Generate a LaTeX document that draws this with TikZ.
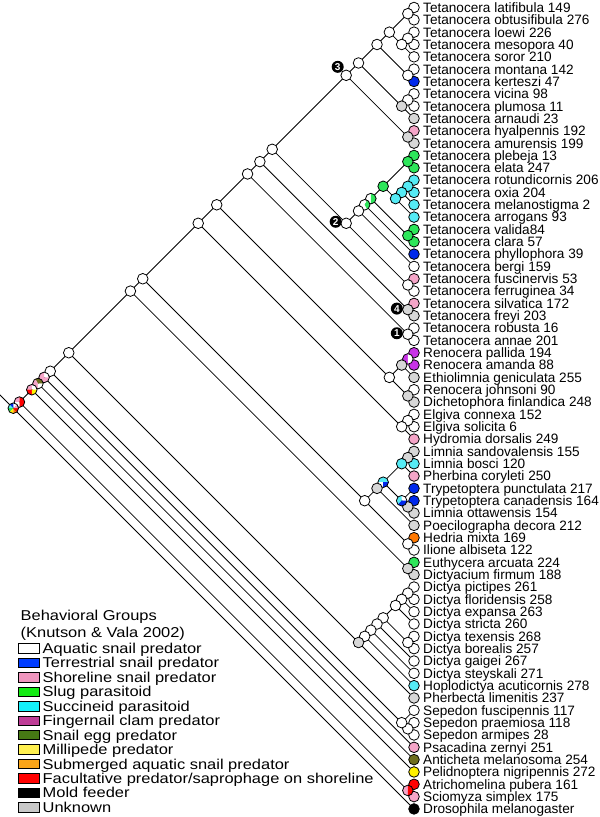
\documentclass[tikz,border=0pt]{standalone}
\usepackage{fontspec}
\setmainfont{Liberation Sans}
\usepackage{graphicx}
\usetikzlibrary{calc}
\definecolor{cbl}{RGB}{0,40,235}
\definecolor{cpk}{RGB}{245,165,200}
\definecolor{cgn}{RGB}{45,230,90}
\definecolor{ccy}{RGB}{85,235,245}
\definecolor{cmg}{RGB}{200,50,230}
\definecolor{col}{RGB}{110,110,30}
\definecolor{cye}{RGB}{255,240,0}
\definecolor{cor}{RGB}{255,120,0}
\definecolor{crd}{RGB}{255,0,0}
\definecolor{cgy}{RGB}{215,215,215}
\definecolor{kbl}{RGB}{0,60,255}
\definecolor{kpk}{RGB}{240,150,190}
\definecolor{kgn}{RGB}{20,235,20}
\definecolor{kcy}{RGB}{20,240,250}
\definecolor{kmg}{RGB}{190,60,150}
\definecolor{kol}{RGB}{70,120,20}
\definecolor{kye}{RGB}{255,240,80}
\definecolor{kor}{RGB}{250,165,25}
\definecolor{krd}{RGB}{255,0,0}
\definecolor{kgy}{RGB}{200,200,200}
\tikzset{
  dot/.style={circle, draw=black, line width=0.8pt, minimum size=10.6pt, inner sep=0pt},
  lab/.style={anchor=base west, inner sep=0pt, font=\fontsize{13.6}{14}\selectfont},
  edge/.style={draw=black, line width=0.8pt},
  badge/.style={circle, fill=black, text=white, inner sep=0pt, minimum size=12pt, font=\bfseries\fontsize{10}{10}\selectfont},
  lbox/.style={rectangle, draw=black, line width=0.6pt, minimum width=20.5pt, minimum height=9.5pt, inner sep=0pt},
  ltext/.style={anchor=base west, inner sep=0pt, font=\fontsize{14.3}{15}\selectfont}
}
\newcommand\leafnode[3]{%
  \node[dot, fill=#2] (n#1) at (0,#1) {};
  \node[lab] (t#1) at ($(n#1)+(9pt,-4.87pt)$) {#3};}
\newcommand\icoord[3]{\coordinate (#1) at (-#2,#3);}
\newcommand\brn[3]{\draw[edge] (#1) -- (#2) (#1) -- (#3);}
\newcommand\inode[2]{\node[dot, fill=#2] (#1c) at (#1) {};}
\newcommand\myslice[4]{\fill[#2] (#1) -- ++(#3:5.3pt) arc[start angle=#3, end angle=#4, radius=5.3pt] -- cycle;}
\newcommand\pieoutline[1]{\node[dot, fill=none] (#1c) at (#1) {};}
\newcommand\legrow[3]{%
  \node[lbox, fill=#2] (k#1) at (28.8, {648.3+(#1-1)*14.45}) {};
  \node[ltext] (kt#1) at (42.5, {648.3+(#1-1)*14.45+5.1}) {\scalebox{1.15}[1]{#3}};}
\begin{document}
\begin{tikzpicture}[x=1pt, y=-1pt]
\useasboundingbox (0,0) rectangle (600,817);
\fill[white] (0,0) rectangle (600,817);
\begin{scope}[shift={(414pt,4.83pt)}, x=12.33pt, y=-12.33pt]
% leaves
\leafnode{1}{white}{Tetanocera latifibula 149}
\leafnode{2}{white}{Tetanocera obtusifibula 276}
\leafnode{3}{white}{Tetanocera loewi 226}
\leafnode{4}{white}{Tetanocera mesopora 40}
\leafnode{5}{white}{Tetanocera soror 210}
\leafnode{6}{white}{Tetanocera montana 142}
\leafnode{7}{cbl}{Tetanocera kerteszi 47}
\leafnode{8}{white}{Tetanocera vicina 98}
\leafnode{9}{white}{Tetanocera plumosa 11}
\leafnode{10}{cgy}{Tetanocera arnaudi 23}
\leafnode{11}{cpk}{Tetanocera hyalpennis 192}
\leafnode{12}{cgy}{Tetanocera amurensis 199}
\leafnode{13}{cgn}{Tetanocera plebeja 13}
\leafnode{14}{cgn}{Tetanocera elata 247}
\leafnode{15}{ccy}{Tetanocera rotundicornis 206}
\leafnode{16}{ccy}{Tetanocera oxia 204}
\leafnode{17}{ccy}{Tetanocera melanostigma 2}
\leafnode{18}{ccy}{Tetanocera arrogans 93}
\leafnode{19}{cgn}{Tetanocera valida84}
\leafnode{20}{cgn}{Tetanocera clara 57}
\leafnode{21}{cbl}{Tetanocera phyllophora 39}
\leafnode{22}{white}{Tetanocera bergi 159}
\leafnode{23}{cpk}{Tetanocera fuscinervis 53}
\leafnode{24}{white}{Tetanocera ferruginea 34}
\leafnode{25}{cpk}{Tetanocera silvatica 172}
\leafnode{26}{cgy}{Tetanocera freyi 203}
\leafnode{27}{white}{Tetanocera robusta 16}
\leafnode{28}{white}{Tetanocera annae 201}
\leafnode{29}{cmg}{Renocera pallida 194}
\leafnode{30}{cmg}{Renocera amanda 88}
\leafnode{31}{cgy}{Ethiolimnia geniculata 255}
\leafnode{32}{white}{Renocera johnsoni 90}
\leafnode{33}{cgy}{Dichetophora finlandica 248}
\leafnode{34}{white}{Elgiva connexa 152}
\leafnode{35}{white}{Elgiva solicita 6}
\leafnode{36}{cpk}{Hydromia dorsalis 249}
\leafnode{37}{cgy}{Limnia sandovalensis 155}
\leafnode{38}{ccy}{Limnia bosci 120}
\leafnode{39}{cpk}{Pherbina coryleti 250}
\leafnode{40}{cbl}{Trypetoptera punctulata 217}
\leafnode{41}{cbl}{Trypetoptera canadensis 164}
\leafnode{42}{cgy}{Limnia ottawensis 154}
\leafnode{43}{cgy}{Poecilographa decora 212}
\leafnode{44}{cor}{Hedria mixta 169}
\leafnode{45}{white}{Ilione albiseta 122}
\leafnode{46}{cgn}{Euthycera arcuata 224}
\leafnode{47}{cgy}{Dictyacium firmum 188}
\leafnode{48}{white}{Dictya pictipes 261}
\leafnode{49}{white}{Dictya floridensis 258}
\leafnode{50}{white}{Dictya expansa 263}
\leafnode{51}{white}{Dictya stricta 260}
\leafnode{52}{white}{Dictya texensis 268}
\leafnode{53}{white}{Dictya borealis 257}
\leafnode{54}{white}{Dictya gaigei 267}
\leafnode{55}{white}{Dictya steyskali 271}
\leafnode{56}{ccy}{Hoplodictya acuticornis 278}
\leafnode{57}{cgy}{Pherbecta limenitis 237}
\leafnode{58}{white}{Sepedon fuscipennis 117}
\leafnode{59}{white}{Sepedon praemiosa 118}
\leafnode{60}{white}{Sepedon armipes 28}
\leafnode{61}{cpk}{Psacadina zernyi 251}
\leafnode{62}{col}{Anticheta melanosoma 254}
\leafnode{63}{cye}{Pelidnoptera nigripennis 272}
\leafnode{64}{crd}{Atrichomelina pubera 161}
\leafnode{65}{cpk}{Sciomyza simplex 175}
\leafnode{66}{black}{Drosophila melanogaster}
% internal positions
\icoord{t12}{0.5}{1.5}
\icoord{t34}{0.5}{3.5}
\icoord{t35}{1}{4}
\icoord{t15}{2}{3}
\icoord{t67}{0.5}{6.5}
\icoord{t17}{3}{4}
\icoord{t89}{0.5}{8.5}
\icoord{t810}{1}{9}
\icoord{t110}{4.5}{5.5}
\icoord{t1112}{0.5}{11.5}
\icoord{Nthree}{5.5}{6.5}
\icoord{c1314}{0.5}{13.5}
\icoord{c1516}{0.5}{15.5}
\icoord{c1517}{1}{16}
\icoord{c1518}{1.5}{16.5}
\icoord{c1318}{2.5}{15.5}
\icoord{c1920}{0.5}{19.5}
\icoord{c1320}{3.5}{16.5}
\icoord{c1321}{4}{17}
\icoord{c1322}{4.5}{17.5}
\icoord{c2324}{0.5}{23.5}
\icoord{Ntwo}{5.5}{18.5}
\icoord{S1}{11.5}{12.5}
\icoord{c2526}{0.5}{25.5}
\icoord{S2}{12.5}{13.5}
\icoord{c2728}{0.5}{27.5}
\icoord{S3}{13.5}{14.5}
\icoord{r2930}{0.5}{29.5}
\icoord{r2931}{1}{30}
\icoord{r3233}{0.5}{32.5}
\icoord{r2933}{2}{31}
\icoord{S4}{16}{17}
\icoord{e3435}{0.5}{34.5}
\icoord{e3436}{1}{35}
\icoord{S5}{17.5}{18.5}
\icoord{l3738}{0.5}{37.5}
\icoord{l3739}{1}{38}
\icoord{l4142}{0.5}{41.5}
\icoord{l4042}{1}{41}
\icoord{l3742}{2.5}{39.5}
\icoord{l3743}{3}{40}
\icoord{h4445}{0.5}{44.5}
\icoord{l3745}{4}{41}
\icoord{S6}{22}{23}
\icoord{d4647}{0.5}{46.5}
\icoord{S7}{23}{24}
\icoord{D4849}{0.5}{48.5}
\icoord{D4850}{1}{49}
\icoord{D4851}{1.5}{49.5}
\icoord{D5253}{0.5}{52.5}
\icoord{D4853}{2.5}{50.5}
\icoord{D4854}{3}{51}
\icoord{D4855}{3.5}{51.5}
\icoord{D4856}{4}{52}
\icoord{D4857}{4.5}{52.5}
\icoord{S8}{28}{29}
\icoord{p5960}{0.5}{59.5}
\icoord{p5860}{1}{59}
\icoord{S9}{29.5}{30.5}
\icoord{S10}{30}{31}
\icoord{S11}{30.5}{31.5}
\icoord{S12}{31}{32}
\icoord{a6465}{0.5}{64.5}
\icoord{S13}{32}{33}
\icoord{root}{32.5}{33.5}
\coordinate (stem) at (-33.6,32.4);
% edges
\draw[edge] (root) -- (stem);
\brn{t12}{n1}{n2}
\brn{t34}{n3}{n4}
\brn{t35}{t34}{n5}
\brn{t15}{t12}{t35}
\brn{t67}{n6}{n7}
\brn{t17}{t15}{t67}
\brn{t89}{n8}{n9}
\brn{t810}{t89}{n10}
\brn{t110}{t17}{t810}
\brn{t1112}{n11}{n12}
\brn{Nthree}{t110}{t1112}
\brn{c1314}{n13}{n14}
\brn{c1516}{n15}{n16}
\brn{c1517}{c1516}{n17}
\brn{c1518}{c1517}{n18}
\brn{c1318}{c1314}{c1518}
\brn{c1920}{n19}{n20}
\brn{c1320}{c1318}{c1920}
\brn{c1321}{c1320}{n21}
\brn{c1322}{c1321}{n22}
\brn{c2324}{n23}{n24}
\brn{Ntwo}{c1322}{c2324}
\brn{S1}{Nthree}{Ntwo}
\brn{c2526}{n25}{n26}
\brn{S2}{S1}{c2526}
\brn{c2728}{n27}{n28}
\brn{S3}{S2}{c2728}
\brn{r2930}{n29}{n30}
\brn{r2931}{r2930}{n31}
\brn{r3233}{n32}{n33}
\brn{r2933}{r2931}{r3233}
\brn{S4}{S3}{r2933}
\brn{e3435}{n34}{n35}
\brn{e3436}{e3435}{n36}
\brn{S5}{S4}{e3436}
\brn{l3738}{n37}{n38}
\brn{l3739}{l3738}{n39}
\brn{l4142}{n41}{n42}
\brn{l4042}{n40}{l4142}
\brn{l3742}{l3739}{l4042}
\brn{l3743}{l3742}{n43}
\brn{h4445}{n44}{n45}
\brn{l3745}{l3743}{h4445}
\brn{S6}{S5}{l3745}
\brn{d4647}{n46}{n47}
\brn{S7}{S6}{d4647}
\brn{D4849}{n48}{n49}
\brn{D4850}{D4849}{n50}
\brn{D4851}{D4850}{n51}
\brn{D5253}{n52}{n53}
\brn{D4853}{D4851}{D5253}
\brn{D4854}{D4853}{n54}
\brn{D4855}{D4854}{n55}
\brn{D4856}{D4855}{n56}
\brn{D4857}{D4856}{n57}
\brn{S8}{S7}{D4857}
\brn{p5960}{n59}{n60}
\brn{p5860}{n58}{p5960}
\brn{S9}{S8}{p5860}
\brn{S10}{S9}{n61}
\brn{S11}{S10}{n62}
\brn{S12}{S11}{n63}
\brn{a6465}{n64}{n65}
\brn{S13}{S12}{a6465}
\brn{root}{S13}{n66}
% internal circles
\inode{t12}{white}
\inode{t34}{white}
\inode{t35}{white}
\inode{t15}{white}
\inode{t67}{white}
\inode{t17}{white}
\inode{t89}{white}
\inode{t810}{cgy}
\inode{t110}{white}
\inode{t1112}{cgy}
\inode{Nthree}{white}
\inode{c1314}{cgn}
\inode{c1516}{ccy}
\inode{c1517}{ccy}
\inode{c1518}{ccy}
\inode{c1318}{cgn}
\inode{c1920}{cgn}
\myslice{c1320}{white}{90}{270}\myslice{c1320}{cgn}{-90}{90}\pieoutline{c1320}
\myslice{c1321}{white}{60}{300}\myslice{c1321}{cgn}{-60}{60}\pieoutline{c1321}
\inode{c1322}{white}
\inode{c2324}{white}
\inode{Ntwo}{white}
\inode{S1}{white}
\inode{c2526}{cgy}
\inode{S2}{white}
\inode{c2728}{white}
\inode{S3}{white}
\myslice{r2930}{cmg}{90}{270}\myslice{r2930}{white}{-90}{90}\pieoutline{r2930}
\inode{r2931}{cgy}
\inode{r3233}{cgy}
\inode{r2933}{white}
\inode{S4}{white}
\inode{e3435}{white}
\inode{e3436}{white}
\inode{S5}{white}
\inode{l3738}{cgy}
\inode{l3739}{ccy}
\inode{l4142}{cgy}
\myslice{l4042}{white}{0}{90}\myslice{l4042}{ccy}{90}{225}\myslice{l4042}{cbl}{225}{360}\pieoutline{l4042}
\myslice{l3742}{ccy}{0}{180}\myslice{l3742}{white}{180}{270}\myslice{l3742}{cbl}{270}{360}\pieoutline{l3742}
\inode{l3743}{cgy}
\inode{h4445}{white}
\inode{l3745}{white}
\inode{S6}{white}
\inode{d4647}{cgy}
\inode{S7}{white}
\inode{D4849}{white}
\inode{D4850}{white}
\inode{D4851}{white}
\inode{D5253}{white}
\inode{D4853}{white}
\inode{D4854}{white}
\inode{D4855}{white}
\inode{D4856}{white}
\inode{D4857}{cgy}
\inode{S8}{white}
\inode{p5960}{white}
\inode{p5860}{white}
\inode{S9}{white}
\myslice{S10}{white}{0}{90}\myslice{S10}{cpk}{90}{360}\pieoutline{S10}
\myslice{S11}{col}{0}{120}\myslice{S11}{cpk}{120}{270}\myslice{S11}{white}{270}{360}\pieoutline{S11}
\myslice{S12}{white}{0}{90}\myslice{S12}{cpk}{90}{180}\myslice{S12}{crd}{180}{270}\myslice{S12}{cye}{270}{360}\pieoutline{S12}
\myslice{a6465}{cpk}{90}{270}\myslice{a6465}{crd}{-90}{90}\pieoutline{a6465}
\myslice{S13}{crd}{-90}{90}\myslice{S13}{cpk}{90}{180}\myslice{S13}{white}{180}{270}\pieoutline{S13}
\myslice{root}{white}{45}{90}\myslice{root}{cbl}{90}{135}\myslice{root}{ccy}{135}{180}\myslice{root}{cgn}{180}{225}\myslice{root}{cye}{225}{270}\myslice{root}{cor}{270}{315}\myslice{root}{crd}{315}{360}\myslice{root}{cpk}{0}{45}\pieoutline{root}
% badges
\node[badge] (b3) at ($(Nthreec)+(-8.5pt,8.5pt)$) {3};
\node[badge] (b2) at ($(Ntwoc)+(-10.5pt,1.5pt)$) {2};
\node[badge] (b4) at ($(c2526c)+(-11pt,1pt)$) {4};
\node[badge] (b1) at ($(c2728c)+(-11pt,1pt)$) {1};
\end{scope}
% legend
\node[ltext] (lt1) at (20.5,620.1) {\scalebox{1.15}[1]{Behavioral Groups}};
\node[ltext] (lt2) at (20.5,637.8) {\scalebox{1.15}[1]{(Knutson \& Vala 2002)}};
\legrow{1}{white}{Aquatic snail predator}
\legrow{2}{kbl}{Terrestrial snail predator}
\legrow{3}{kpk}{Shoreline snail predator}
\legrow{4}{kgn}{Slug parasitoid}
\legrow{5}{kcy}{Succineid parasitoid}
\legrow{6}{kmg}{Fingernail clam predator}
\legrow{7}{kol}{Snail egg predator}
\legrow{8}{kye}{Millipede predator}
\legrow{9}{kor}{Submerged aquatic snail predator}
\legrow{10}{krd}{Facultative predator/saprophage on shoreline}
\legrow{11}{black}{Mold feeder}
\legrow{12}{kgy}{Unknown}
\end{tikzpicture}
\end{document}
